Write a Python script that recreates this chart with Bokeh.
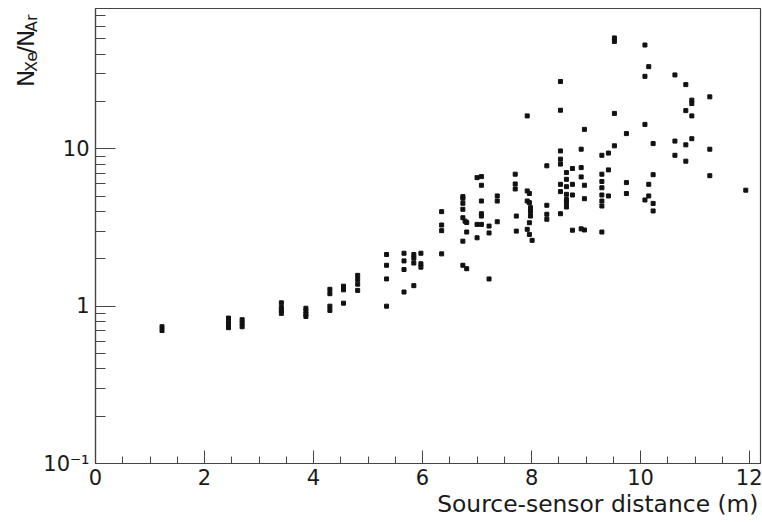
import numpy as np
from bokeh.plotting import figure
from bokeh.layouts import row
from bokeh.models import Range1d, FixedTicker, Title
from bokeh.core.properties import value
from bokeh.embed import file_html
from bokeh.resources import INLINE

# ---- data ----
distance = (
    [1.22, 1.22]
    + [2.44] * 4
    + [2.69] * 3
    + [3.41] * 4
    + [3.86] * 4
    + [4.30] * 4
    + [4.55] * 3
    + [4.81] * 4
    + [5.34] * 4
    + [5.66] * 4
    + [5.84] * 4
    + [5.97] * 3
    + [6.35] * 4
    + [6.74] * 7
    + [6.78]
    + [6.81] * 3
    + [7.00] * 3
    + [7.08] * 6
    + [7.22] * 3
    + [7.37] * 3
    + [7.70] * 3
    + [7.72] * 2
    + [7.92] * 4
    + [7.96] * 4
    + [7.98] * 3
    + [8.01]
    + [8.28] * 4
    + [8.53] * 8
    + [8.64] * 7
    + [8.75] * 4
    + [8.91] * 4
    + [8.97] * 4
    + [9.29] * 8
    + [9.41] * 3
    + [9.52] * 4
    + [9.74] * 3
    + [10.08] * 4
    + [10.15] * 3
    + [10.23] * 4
    + [10.63] * 3
    + [10.83] * 4
    + [10.94] * 4
    + [11.27] * 3
    + [11.93]
)
ratio = [
    0.74, 0.70,
    0.84, 0.79, 0.75, 0.73,
    0.82, 0.78, 0.74,
    1.05, 0.98, 0.94, 0.90,
    0.97, 0.93, 0.89, 0.86,
    1.28, 1.20, 1.00, 0.94,
    1.34, 1.27, 1.045,
    1.57, 1.48, 1.38, 1.26,
    2.13, 1.82, 1.49, 1.00,
    2.17, 1.94, 1.71, 1.23,
    2.13, 2.02, 1.88, 1.35,
    2.17, 1.86, 1.77,
    3.99, 3.28, 3.02, 2.15,
    4.97, 4.85, 4.51, 4.13, 3.65, 2.59, 1.82,
    3.47,
    3.40, 2.96, 1.73,
    6.56, 3.31, 2.72,
    6.66, 5.87, 4.66, 3.87, 3.74, 3.31,
    3.23, 2.92, 1.49,
    5.02, 4.66, 3.44,
    6.9, 5.98, 5.56,
    3.74, 3.0,
    16.2, 5.4, 4.66, 3.08,
    5.2, 4.55, 3.39, 2.86,
    4.23, 4.0, 3.74,
    2.62,
    7.8, 4.38, 3.84, 3.57,
    26.8, 17.6, 9.7, 8.6, 8.0, 5.95, 5.35, 3.87,
    7.07, 6.4, 5.75, 5.14, 4.76, 4.55, 4.27,
    7.5, 5.95, 5.09, 3.04,
    9.95, 7.6, 6.63, 3.1,
    13.3, 5.87, 4.82, 3.05,
    9.1, 6.9, 6.2, 5.66, 5.09, 4.66, 4.33, 2.96,
    9.4, 7.35, 5.02,
    50.7, 48.2, 16.8, 10.45,
    12.5, 6.1, 5.2,
    45.7, 28.9, 14.3, 4.73,
    33.3, 5.95, 5.02,
    10.8, 6.85, 4.5, 4.03,
    29.5, 11.2, 9.1,
    25.6, 17.5, 10.6, 8.35,
    20.4, 19.4, 16.2, 11.6,
    21.4, 9.95, 6.75,
    5.46,
]

x_ticks = [0, 2, 4, 6, 8, 10, 12]
x_minor_ticks = [0.5, 1, 1.5, 2.5, 3, 3.5, 4.5, 5, 5.5, 6.5, 7, 7.5,
                 8.5, 9, 9.5, 10.5, 11, 11.5]
y_ticks = [0.1, 1, 10]
y_tick_labels = {0.1: "10\u207b\u00b9", 1: "1", 10: "10"}
y_minor_ticks = [0.2, 0.3, 0.4, 0.5, 0.6, 0.7, 0.8, 0.9,
                 2, 3, 4, 5, 6, 7, 8, 9,
                 20, 30, 40, 50, 60, 70]
x_title = "Source-sensor distance (m)"
y_title_main = ["N", "/", "N"]
y_title_sub = ["Xe", "Ar"]

X0, X1 = 0.0, 12.2
Y0, Y1 = 0.1, 78.0
W, H = 762, 522
LW = 40          # width of the strip holding the y title
FONT = "DejaVu Sans"
TXT = "#1a1a1a"
AX = "#444444"

# ---------------- main plot ----------------
p = figure(width=W - LW, height=H, output_backend="svg", toolbar_location=None,
           y_axis_type="log",
           x_range=Range1d(X0, X1), y_range=Range1d(Y0, Y1),
           min_border_left=93 - LW, min_border_right=2,
           min_border_top=8, min_border_bottom=H - 463)
p.background_fill_color = "white"
p.border_fill_color = "white"
p.outline_line_color = AX
p.outline_line_width = 1.2
p.xgrid.visible = False
p.ygrid.visible = False

p.xaxis.ticker = FixedTicker(ticks=x_ticks, minor_ticks=x_minor_ticks)
p.yaxis.ticker = FixedTicker(ticks=y_ticks, minor_ticks=y_minor_ticks)
p.yaxis.major_label_overrides = y_tick_labels

for ax in (p.xaxis[0], p.yaxis[0]):
    ax.axis_line_color = AX
    ax.axis_line_width = 1.2
    ax.major_tick_line_color = AX
    ax.minor_tick_line_color = AX
    ax.major_tick_out = 0
    ax.minor_tick_out = 0
    ax.major_label_text_font = FONT
    ax.major_label_text_font_size = "21px"
    ax.major_label_text_color = TXT

p.xaxis.major_tick_in = 13
p.xaxis.minor_tick_in = 7
p.xaxis.major_label_standoff = 5
p.yaxis.major_tick_in = 20
p.yaxis.minor_tick_in = 10
p.yaxis.major_label_standoff = 6

p.scatter(distance, ratio, marker="square", size=4, color="#111111")

p.add_layout(Title(text=x_title, align="right", offset=2, standoff=0,
                   text_font=FONT, text_font_size="23.4px",
                   text_font_style="normal", text_color=TXT), "below")

# ---------------- y title strip (N_Xe / N_Ar) ----------------
ly = figure(width=LW, height=H, output_backend="svg", toolbar_location=None,
            x_range=Range1d(0, LW), y_range=Range1d(0, H), min_border=0)
ly.axis.visible = False
ly.grid.visible = False
ly.outline_line_color = None
ly.background_fill_color = "white"
ly.border_fill_color = "white"

big, small = 23, 16
# positions along the rotated title (pixels from top of page)
main_py = [90, 52.0, 44.2]
sub_py = [72.8, 27.0]
ly.text(x=[25] * 3, y=[H - v for v in main_py], text=y_title_main,
        angle=np.pi / 2, text_align="left", text_baseline="middle",
        text_font=value(FONT), text_font_size=value(f"{big}px"),
        text_color=TXT)
ly.text(x=[30.5] * 2, y=[H - v for v in sub_py], text=y_title_sub,
        angle=np.pi / 2, text_align="left", text_baseline="middle",
        text_font=value(FONT), text_font_size=value(f"{small}px"),
        text_color=TXT)

layout = row(ly, p, spacing=0)

open("out.html", "w").write(file_html(layout, INLINE))
